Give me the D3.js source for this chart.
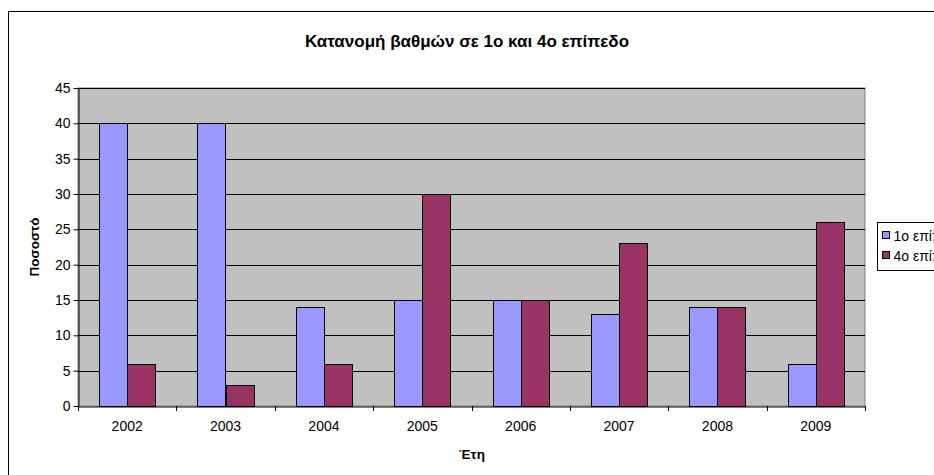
<!DOCTYPE html>
<html><head><meta charset="utf-8">
<script src="https://cdn.jsdelivr.net/npm/d3@7"></script>
<style>body{margin:0;background:#fff;overflow:hidden}svg{display:block;font-family:"Liberation Sans",Arial,sans-serif}</style>
</head><body><svg id="c" width="934" height="475"></svg>
<script>
const years = ["2002","2003","2004","2005","2006","2007","2008","2009"];
const level1 = [40,40,14,15,15,13,14,6];
const level4 = [6,3,6,30,15,23,14,26];
const seriesNames = ["1ο επίπεδο","4ο επίπεδο"];
const yTicks = [0,5,10,15,20,25,30,35,40,45];
const colors = ["#9999FF","#993366"];

const svg = d3.select("#c");
svg.append("rect").attr("x",8.5).attr("y",11.5).attr("width",1000).attr("height",500)
  .attr("fill","#fff").attr("stroke","#000").attr("stroke-width",1);

const L=78, R=865, T=88, B=406;
const x = d3.scaleBand().domain(years).range([L,R]).paddingInner(0).paddingOuter(0);
const y = d3.scaleLinear().domain([0,45]).range([B,T]);
const bw = x.bandwidth()/3.5;

svg.append("rect").attr("x",L).attr("y",T).attr("width",R-L).attr("height",B-T)
  .attr("fill","#C0C0C0").attr("stroke","#808080").attr("stroke-width",1);

svg.append("g").selectAll("line").data(yTicks.filter(d=>d>0)).join("line")
  .attr("x1",L).attr("x2",R).attr("y1",d=>Math.round(y(d))+0.5).attr("y2",d=>Math.round(y(d))+0.5)
  .attr("stroke","#000").attr("stroke-width",1);

const data = years.map((yr,i)=>({yr, vals:[level1[i],level4[i]]}));
const g = svg.append("g");
data.forEach(d=>{
  d.vals.forEach((v,s)=>{
    const x0 = x(d.yr) + 0.75*bw + s*bw;
    g.append("rect").attr("x",Math.round(x0)+0.5).attr("y",Math.round(y(v))+0.5)
     .attr("width",Math.round(bw)).attr("height",Math.round(B-y(v)))
     .attr("fill",colors[s]).attr("stroke","#000").attr("stroke-width",1);
  });
});

const ya = svg.append("g").attr("transform",`translate(${L+0.5},0)`)
  .call(d3.axisLeft(y).tickValues(yTicks).tickSize(5).tickSizeOuter(0));
ya.select(".domain").attr("stroke","#000");
ya.selectAll("text").attr("font-size",14).attr("fill","#000").attr("font-family","Liberation Sans, Arial");
const xa = svg.append("g").attr("transform",`translate(0,${B+0.5})`)
  .call(d3.axisBottom(x).tickSize(0).tickSizeOuter(0));
xa.select(".domain").attr("stroke","#000");
xa.selectAll("text").attr("font-size",14).attr("fill","#000").attr("dy","1.55em").attr("font-family","Liberation Sans, Arial");
svg.append("g").selectAll("line").data(years.concat(["end"])).join("line")
  .attr("x1",(d,i)=>Math.round(L+i*x.bandwidth())+0.5).attr("x2",(d,i)=>Math.round(L+i*x.bandwidth())+0.5)
  .attr("y1",B).attr("y2",B+5).attr("stroke","#000");

svg.append("text").attr("x",467).attr("y",47).attr("text-anchor","middle")
  .attr("font-size",17).attr("font-weight","bold").text("Κατανομή βαθμών σε 1ο και 4ο επίπεδο");
svg.append("text").attr("transform","translate(39,247) rotate(-90)").attr("text-anchor","middle")
  .attr("font-size",13.5).attr("font-weight","bold").text("Ποσοστό");
svg.append("text").attr("x",472).attr("y",459).attr("text-anchor","middle")
  .attr("font-size",13.5).attr("font-weight","bold").text("Έτη");

const lg = svg.append("g").attr("transform","translate(877.5,222.5)");
lg.append("rect").attr("width",130).attr("height",48).attr("fill","#fff").attr("stroke","#000");
seriesNames.forEach((n,i)=>{
  lg.append("rect").attr("x",5).attr("y",9+i*20).attr("width",7).attr("height",7)
    .attr("fill",colors[i]).attr("stroke","#000");
  lg.append("text").attr("x",16).attr("y",18+i*20).attr("font-size",14).text(n);
});
</script></body></html>
